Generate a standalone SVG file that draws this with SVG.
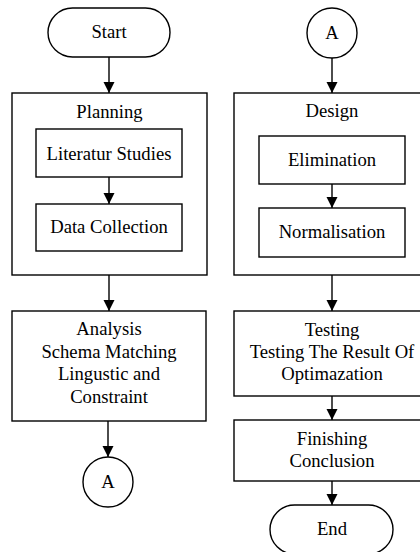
<svg xmlns="http://www.w3.org/2000/svg" width="420" height="552" viewBox="0 0 420 552">
<style>
.s{fill:#fff;stroke:#000;stroke-width:1.4}
.c{fill:none;stroke:#000;stroke-width:1.4}
text{font-family:'Liberation Serif',Tinos,'Times New Roman','DejaVu Serif',serif;font-size:18.67px;fill:#000;text-anchor:middle}
</style>
<defs>
<marker id="ah" markerUnits="userSpaceOnUse" markerWidth="12" markerHeight="12" viewBox="0 0 12 12" refX="11" refY="6" orient="auto">
<path d="M0,0.5 L11,6 L0,11.5 Z" fill="#000"/>
</marker>
</defs>
<rect width="420" height="552" fill="#fff"/>
<g id="planning"><rect class="s" x="12" y="93" width="195" height="182"/><text x="109.5" y="118">Planning</text></g>
<g id="design"><rect class="s" x="234" y="93" width="196" height="182"/><text x="332" y="117">Design</text></g>
<g id="start"><rect class="s" x="48" y="8" width="122" height="49" rx="24.5"/><text x="109" y="38">Start</text></g>
<g id="lit"><rect class="s" x="36" y="129" width="146" height="48"/><text x="109" y="160">Literatur Studies</text></g>
<g id="data"><rect class="s" x="36" y="204" width="146" height="47"/><text x="109" y="233">Data Collection</text></g>
<g id="analysis"><rect class="s" x="12" y="311" width="194" height="110"/><text x="109" y="335">Analysis</text><text x="109" y="358">Schema Matching</text><text x="109" y="380">Lingustic and</text><text x="109" y="403">Constraint</text></g>
<g id="connA1"><circle class="s" cx="108" cy="482" r="25"/><text x="108" y="488">A</text></g>
<g id="connA2"><circle class="s" cx="332" cy="33" r="25"/><text x="332" y="39">A</text></g>
<g id="elim"><rect class="s" x="259" y="136" width="146" height="48"/><text x="332" y="166">Elimination</text></g>
<g id="norm"><rect class="s" x="259" y="208" width="146" height="49"/><text x="332" y="238">Normalisation</text></g>
<g id="testing"><rect class="s" x="234" y="311" width="196" height="85"/><text x="332" y="336">Testing</text><text x="332" y="358">Testing The Result Of</text><text x="332" y="380">Optimazation</text></g>
<g id="finishing"><rect class="s" x="234" y="420" width="196" height="61"/><text x="332" y="445">Finishing</text><text x="332" y="467">Conclusion</text></g>
<g id="end"><rect class="s" x="270" y="505" width="123" height="49" rx="24.5"/><text x="332" y="535">End</text></g>
<g id="connectors">
<path class="c" d="M109,57 V93" marker-end="url(#ah)"/>
<path class="c" d="M109,177 V204" marker-end="url(#ah)"/>
<path class="c" d="M109,275 V311" marker-end="url(#ah)"/>
<path class="c" d="M108,421 V457" marker-end="url(#ah)"/>
<path class="c" d="M332,58 V93" marker-end="url(#ah)"/>
<path class="c" d="M332,184 V208" marker-end="url(#ah)"/>
<path class="c" d="M332,275 V311" marker-end="url(#ah)"/>
<path class="c" d="M332,396 V420" marker-end="url(#ah)"/>
<path class="c" d="M332,481 V505" marker-end="url(#ah)"/>
</g>
</svg>
